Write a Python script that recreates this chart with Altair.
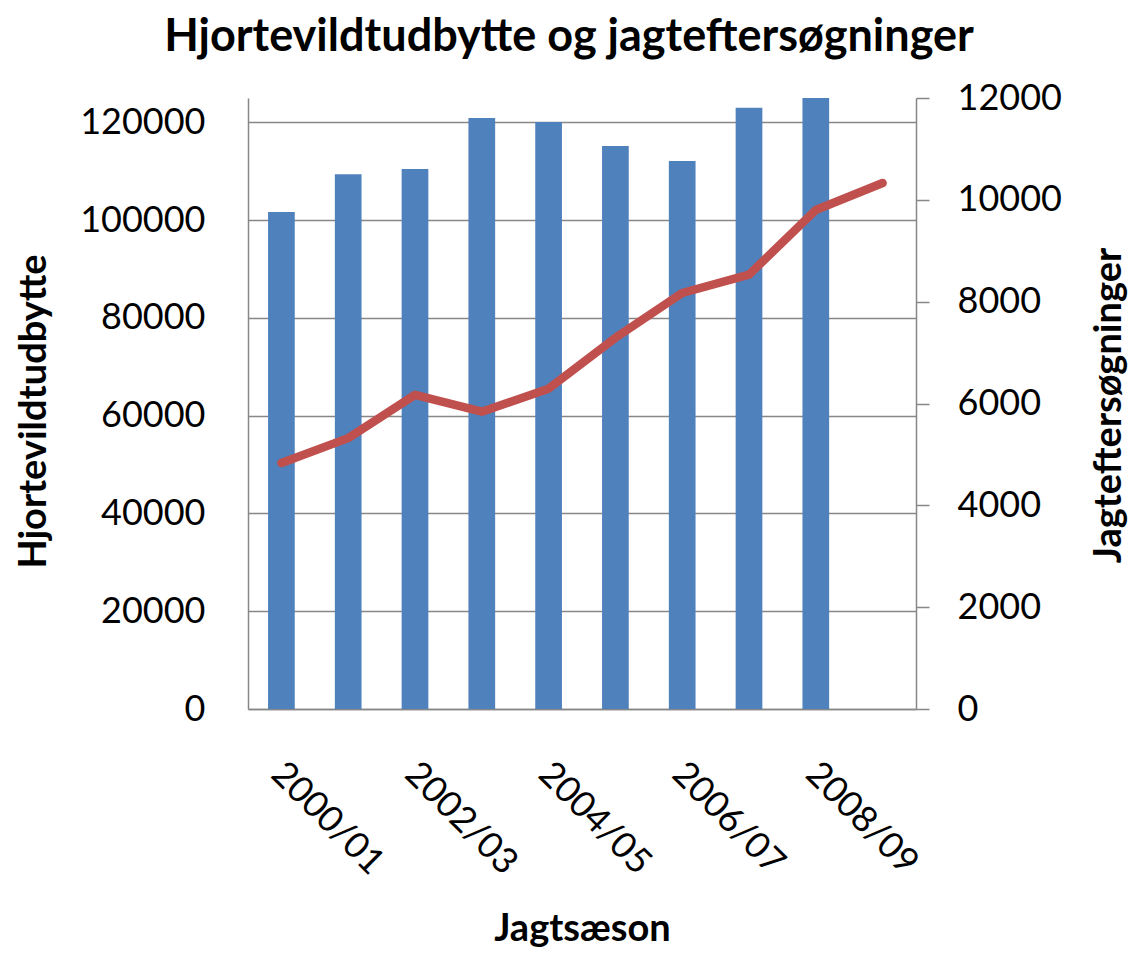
import altair as alt
import pandas as pd

seasons = ["2000/01", "2001/02", "2002/03", "2003/04", "2004/05",
           "2005/06", "2006/07", "2007/08", "2008/09", "2009/10"]
udbytte = [101700, 109400, 110500, 120900, 120100, 115200, 112100, 123000, 125000, None]
eftersogninger = [4830, 5320, 6170, 5840, 6290, 7290, 8170, 8530, 9800, 10330]
shown_labels = ["2000/01", "2002/03", "2004/05", "2006/07", "2008/09"]
left_ticks = [0, 20000, 40000, 60000, 80000, 100000, 120000]
right_ticks = [0, 2000, 4000, 6000, 8000, 10000, 12000]

df = pd.DataFrame({"season": seasons, "udbytte": udbytte, "eftersogninger": eftersogninger})

FONT = "Lato"
GRAY = "#878787"
BLUE = "#4F81BD"
RED = "#C0504D"
TICK_FS = 36
AXT_FS = 38

x = alt.X(
    "season:N",
    sort=seasons,
    scale=alt.Scale(domain=seasons, paddingInner=0, paddingOuter=0),
    axis=alt.Axis(
        values=shown_labels, labelAngle=45, labelAlign="left", labelBaseline="top",
        labelPadding=47, labelOffset=8, ticks=False, tickSize=0, grid=False,
        domainColor=GRAY, domainWidth=1.5, labelFontSize=TICK_FS, labelFont=FONT,
        labelColor="black", labelOverlap=False,
        title="Jagtsæson", titleFontSize=AXT_FS, titleFont=FONT, titleFontWeight="bold",
        titleColor="black", titleX=334, titleY=231, titleBaseline="alphabetic",
        titleAlign="center",
    ),
)

bars = alt.Chart(df).mark_bar(color=BLUE, size=26.7).encode(
    x=x,
    y=alt.Y(
        "udbytte:Q",
        scale=alt.Scale(domain=[0, 125000], nice=False, zero=True),
        axis=alt.Axis(
            values=left_ticks, format="d", grid=True, gridColor=GRAY, gridWidth=1.3,
            ticks=False, tickSize=0, labelPadding=43, domainColor=GRAY, domainWidth=1.5,
            labelFontSize=TICK_FS, labelFont=FONT, labelColor="black",
            title="Hjortevildtudbytte", titleFontSize=AXT_FS, titleFont=FONT,
            titleFontWeight="bold", titleColor="black", titleAngle=270,
            titleX=-203, titleY=313, titleBaseline="alphabetic", titleAlign="center",
        ),
    ),
)

line = alt.Chart(df).mark_line(color=RED, strokeWidth=8.5, strokeCap="round", strokeJoin="round").encode(
    x=x,
    y=alt.Y(
        "eftersogninger:Q",
        scale=alt.Scale(domain=[0, 12000], nice=False, zero=True),
        axis=alt.Axis(
            orient="right", values=right_ticks, format="d", grid=False,
            ticks=True, tickSize=13, tickColor=GRAY, tickWidth=1.5, labelPadding=28,
            domainColor=GRAY, domainWidth=1.5, labelFontSize=TICK_FS, labelFont=FONT,
            labelColor="black",
            title="Jagteftersøgninger", titleFontSize=AXT_FS, titleFont=FONT,
            titleFontWeight="bold", titleColor="black", titleAngle=270,
            titleX=204, titleY=307, titleBaseline="alphabetic", titleAlign="center",
        ),
    ),
)

chart = alt.layer(bars, line).resolve_scale(y="independent").properties(
    width=668,
    height=611,
    padding={"left": 240, "top": 90, "right": 214, "bottom": 241},
    autosize=alt.AutoSizeParams(type="none"),
    title=alt.Title(
        "Hjortevildtudbytte og jagteftersøgninger", fontSize=45, font=FONT,
        fontWeight="bold", anchor="middle", frame="group", dx=-13, dy=-16,
        color="black",
    ),
    background="white",
).configure_view(stroke=None)

chart.save("out.html", embed_options={"renderer": "svg", "actions": False})
